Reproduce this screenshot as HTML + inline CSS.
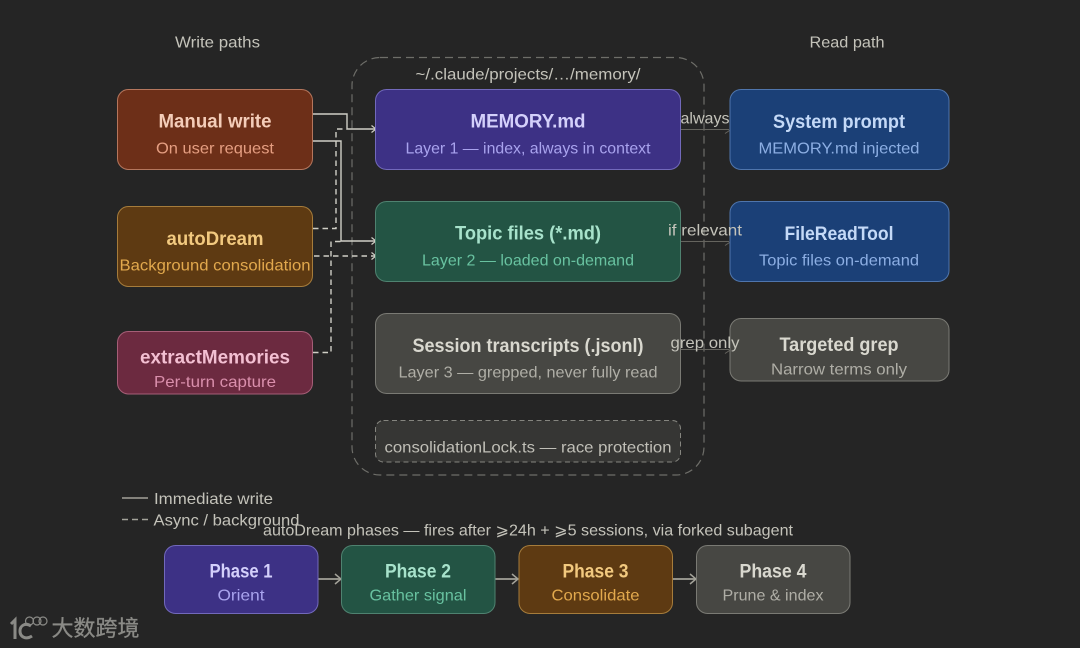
<!DOCTYPE html>
<html><head><meta charset="utf-8">
<style>
html,body{margin:0;padding:0;background:#252525;width:1080px;height:648px;overflow:hidden}
svg{display:block}
text{font-family:"Liberation Sans","Noto Sans CJK SC",sans-serif;text-anchor:middle}
.t{font-size:19px;font-weight:bold}
.s{font-size:16px}
.l{font-size:16px;fill:#c4c3ba}
</style></head><body>
<svg width="1080" height="648" viewBox="0 0 1080 648" xmlns="http://www.w3.org/2000/svg">
<defs>
<marker id="a" markerWidth="10" markerHeight="10" refX="7" refY="4" orient="auto" markerUnits="userSpaceOnUse"><path d="M2.500 0.500L7 4L2.500 7.500" fill="none" stroke="#d0cfc6" stroke-width="1.2"/></marker>
<marker id="b" markerWidth="12" markerHeight="14" refX="8" refY="7" orient="auto" markerUnits="userSpaceOnUse"><path d="M2 2L8 7L2 12" fill="none" stroke="#a3a299" stroke-width="1.5"/></marker>
</defs>
<rect width="1080" height="648" fill="#252525"/>

<text class="l" x="217.500" y="47.500" textLength="85" lengthAdjust="spacingAndGlyphs">Write paths</text>
<text class="l" x="847" y="47.500" textLength="75" lengthAdjust="spacingAndGlyphs">Read path</text>

<rect x="352" y="57.500" width="352" height="417.500" rx="28" fill="none" stroke="#6e6e69" stroke-width="1.2" stroke-dasharray="8 5"/>
<text class="l" x="528" y="79.500" textLength="225" lengthAdjust="spacingAndGlyphs">~/.claude/projects/…/memory/</text>

<!-- read connectors -->
<g fill="none" stroke="#65645e" stroke-width="1">
<path d="M681 129.500H729M725 133.500L729.500 130.500"/>
<path d="M681 241.500H729M725 245.500L729.500 242.500"/>
<path d="M681 349.500H729M725 353.500L729.500 350.500"/>
</g>

<!-- write connectors -->
<g fill="none" stroke="#d0cfc6" stroke-width="1.4">
<path d="M313 114H347V129H376" marker-end="url(#a)"/>
<path d="M313 141H341V241H376" marker-end="url(#a)"/>
<g stroke-dasharray="5.500 4">
<path d="M313 228.500H336V129H347"/>
<path d="M314 256H376" marker-end="url(#a)"/>
<path d="M313 352.500H331V241.500H341"/>
</g>
</g>

<!-- left -->
<rect x="117.500" y="89.500" width="195" height="80" rx="11" fill="#6d2f18" stroke="#b5765d"/>
<text class="t" x="215" y="127.500" fill="#f4cdb9" textLength="113" lengthAdjust="spacingAndGlyphs">Manual write</text>
<text class="s" x="215" y="153.500" fill="#e59e81" textLength="118" lengthAdjust="spacingAndGlyphs">On user request</text>

<rect x="117.500" y="206.500" width="195" height="80" rx="11" fill="#5e3a12" stroke="#a67c3b"/>
<text class="t" x="215" y="245" fill="#f2c97f" textLength="97" lengthAdjust="spacingAndGlyphs">autoDream</text>
<text class="s" x="215" y="270.500" fill="#e2a94d" textLength="191" lengthAdjust="spacingAndGlyphs">Background consolidation</text>

<rect x="117.500" y="331.500" width="195" height="62.500" rx="11" fill="#6c2a40" stroke="#a55e77"/>
<text class="t" x="215" y="363.500" fill="#f3bfd2" textLength="150" lengthAdjust="spacingAndGlyphs">extractMemories</text>
<text class="s" x="215" y="387" fill="#da8fac" textLength="122" lengthAdjust="spacingAndGlyphs">Per-turn capture</text>

<!-- center -->
<rect x="375.500" y="89.500" width="305" height="80" rx="11" fill="#3d3185" stroke="#7269bb"/>
<text class="t" x="528" y="127.500" fill="#d4d0fb" textLength="115" lengthAdjust="spacingAndGlyphs">MEMORY.md</text>
<text class="s" x="528" y="153.500" fill="#a9a3ee" textLength="245" lengthAdjust="spacingAndGlyphs">Layer 1 — index, always in context</text>

<rect x="375.500" y="201.500" width="305" height="80" rx="11" fill="#235444" stroke="#4f8270"/>
<text class="t" x="528" y="239.500" fill="#a7e2cb" textLength="146" lengthAdjust="spacingAndGlyphs">Topic files (*.md)</text>
<text class="s" x="528" y="265.500" fill="#68c2a0" textLength="212" lengthAdjust="spacingAndGlyphs">Layer 2 — loaded on-demand</text>

<rect x="375.500" y="313.500" width="305" height="80" rx="11" fill="#474743" stroke="#7a7a74"/>
<text class="t" x="528" y="352" fill="#d9d8cf" textLength="231" lengthAdjust="spacingAndGlyphs">Session transcripts (.jsonl)</text>
<text class="s" x="528" y="377.500" fill="#afaea6" textLength="259" lengthAdjust="spacingAndGlyphs">Layer 3 — grepped, never fully read</text>

<rect x="375.500" y="420.500" width="305" height="41.500" rx="8" fill="#363634" stroke="#85857f" stroke-dasharray="5 3.500"/>
<text class="s" x="528" y="452.500" fill="#c0bfb7" textLength="287" lengthAdjust="spacingAndGlyphs">consolidationLock.ts — race protection</text>

<!-- right -->
<rect x="730" y="89.500" width="219" height="80" rx="11" fill="#1b4077" stroke="#4f75ac"/>
<text class="t" x="839" y="128" fill="#c4d9f7" textLength="132" lengthAdjust="spacingAndGlyphs">System prompt</text>
<text class="s" x="839" y="153.500" fill="#8caee3" textLength="161" lengthAdjust="spacingAndGlyphs">MEMORY.md injected</text>

<rect x="730" y="201.500" width="219" height="80" rx="11" fill="#1b4077" stroke="#4f75ac"/>
<text class="t" x="839" y="240" fill="#c4d9f7" textLength="109" lengthAdjust="spacingAndGlyphs">FileReadTool</text>
<text class="s" x="839" y="265.500" fill="#8caee3" textLength="160" lengthAdjust="spacingAndGlyphs">Topic files on-demand</text>

<rect x="730" y="318.500" width="219" height="62.500" rx="11" fill="#474743" stroke="#7a7a74"/>
<text class="t" x="839" y="351" fill="#d9d8cf" textLength="119" lengthAdjust="spacingAndGlyphs">Targeted grep</text>
<text class="s" x="839" y="374.500" fill="#afaea6" textLength="136" lengthAdjust="spacingAndGlyphs">Narrow terms only</text>

<!-- connector labels -->
<text class="l" x="705" y="123.500" textLength="49" lengthAdjust="spacingAndGlyphs">always</text>
<text class="l" x="705" y="235.500" textLength="74" lengthAdjust="spacingAndGlyphs">if relevant</text>
<text class="l" x="705" y="348" textLength="69" lengthAdjust="spacingAndGlyphs">grep only</text>

<!-- legend -->
<path d="M122 498H148" stroke="#a3a299" stroke-width="1.4"/>
<path d="M122 519.500H148" stroke="#a3a299" stroke-width="1.4" stroke-dasharray="6 4"/>
<text class="l" x="213.500" y="504" textLength="119" lengthAdjust="spacingAndGlyphs">Immediate write</text>
<text class="l" x="226.500" y="525.500" textLength="146" lengthAdjust="spacingAndGlyphs">Async / background</text>
<text class="l" x="528" y="535.500" textLength="530" lengthAdjust="spacingAndGlyphs">autoDream phases — fires after ⩾24h + ⩾5 sessions, via forked subagent</text>

<!-- phases -->
<g fill="none" stroke="#a3a299" stroke-width="1.7">
<path d="M318 579H341" marker-end="url(#b)"/>
<path d="M495 579H518" marker-end="url(#b)"/>
<path d="M673 579H696" marker-end="url(#b)"/>
</g>
<rect x="164.500" y="545.500" width="153.500" height="68" rx="11" fill="#3d3185" stroke="#7269bb"/>
<text class="t" x="241" y="577.500" fill="#d4d0fb" textLength="63" lengthAdjust="spacingAndGlyphs">Phase 1</text>
<text class="s" x="241" y="600.500" fill="#a9a3ee" textLength="47" lengthAdjust="spacingAndGlyphs">Orient</text>

<rect x="341.500" y="545.500" width="153.500" height="68" rx="11" fill="#235444" stroke="#4f8270"/>
<text class="t" x="418" y="577.500" fill="#a7e2cb" textLength="66" lengthAdjust="spacingAndGlyphs">Phase 2</text>
<text class="s" x="418" y="600.500" fill="#68c2a0" textLength="97" lengthAdjust="spacingAndGlyphs">Gather signal</text>

<rect x="519" y="545.500" width="153.500" height="68" rx="11" fill="#5e3a12" stroke="#a67c3b"/>
<text class="t" x="595.500" y="577.500" fill="#f2c97f" textLength="66" lengthAdjust="spacingAndGlyphs">Phase 3</text>
<text class="s" x="595.500" y="600.500" fill="#e2a94d" textLength="88" lengthAdjust="spacingAndGlyphs">Consolidate</text>

<rect x="696.500" y="545.500" width="153.500" height="68" rx="11" fill="#474743" stroke="#7a7a74"/>
<text class="t" x="773" y="577.500" fill="#d9d8cf" textLength="67" lengthAdjust="spacingAndGlyphs">Phase 4</text>
<text class="s" x="773" y="600.500" fill="#afaea6" textLength="101" lengthAdjust="spacingAndGlyphs">Prune &amp; index</text>

<!-- watermark -->
<g fill="none" stroke="#8a8a86">
<path d="M11 624L15 620V639" stroke-width="3"/>
<path d="M31 626C25 622 20 626 20 631C20 637 26 640 32 636" stroke-width="3"/>
<circle cx="29.500" cy="621" r="4" stroke-width="1.200"/>
<circle cx="37" cy="621" r="4" stroke-width="1.200"/>
<circle cx="43" cy="621" r="4" stroke-width="1.200"/>
</g>
<text x="95.500" y="636" font-size="22" fill="#8a8a86" stroke="#8a8a86" stroke-width="0.300" textLength="88" lengthAdjust="spacingAndGlyphs">大数跨境</text>
</svg>
</body></html>
